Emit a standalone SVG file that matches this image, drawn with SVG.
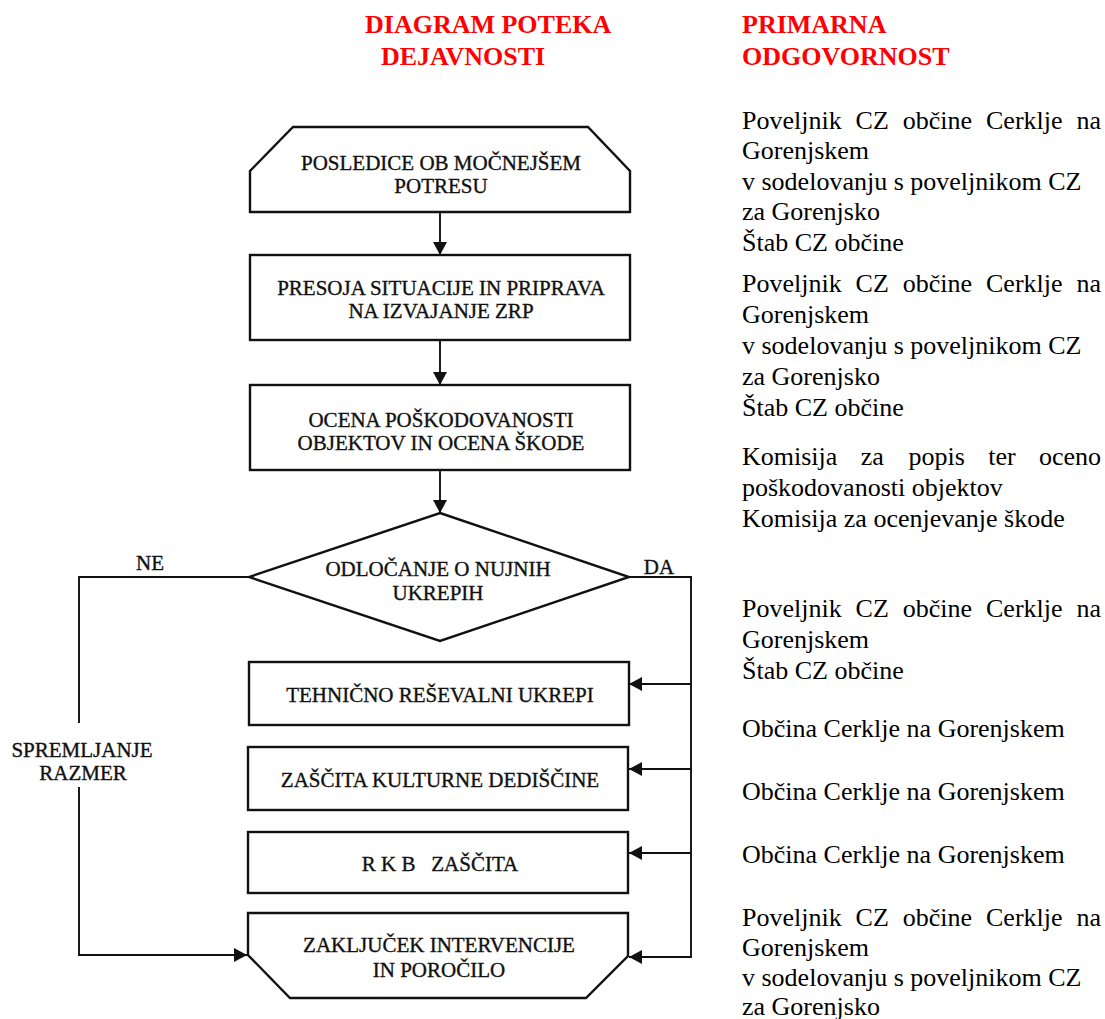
<svg xmlns="http://www.w3.org/2000/svg" width="1105" height="1019" viewBox="0 0 1105 1019">
<style>
text{font-family:'Liberation Serif','Times New Roman',serif}
.hdr{font-size:26px;font-weight:bold;fill:#ff0000}
.rt{font-size:26px;fill:#000}
.nt{font-size:21px;fill:#111;stroke:#111;stroke-width:0.35;text-anchor:middle}
.lb{font-size:21px;fill:#111;stroke:#111;stroke-width:0.35}
.shape{fill:#fff;stroke:#111;stroke-width:2.4}
.conn{fill:none;stroke:#111;stroke-width:1.9}
</style>
<defs>
<marker id="ah" markerUnits="userSpaceOnUse" markerWidth="14" markerHeight="14" refX="13" refY="7" orient="auto">
<path d="M0,0 L13,7 L0,14 Z" fill="#111"/>
</marker>
</defs>
<rect width="1105" height="1019" fill="#fff"/>

<g id="headers">
<text class="hdr" x="365" y="33">DIAGRAM POTEKA</text>
<text class="hdr" x="381" y="65">DEJAVNOSTI</text>
<text class="hdr" x="742" y="33">PRIMARNA</text>
<text class="hdr" x="742" y="65">ODGOVORNOST</text>
</g>

<g id="connectors">
<line class="conn" x1="440" y1="212" x2="440" y2="255" marker-end="url(#ah)"/>
<line class="conn" x1="440" y1="340" x2="440" y2="385" marker-end="url(#ah)"/>
<line class="conn" x1="440" y1="470" x2="440" y2="513" marker-end="url(#ah)"/>
<polyline class="conn" points="249,577 79,577 79,723"/>
<polyline class="conn" points="79,787 79,955 247,955" marker-end="url(#ah)"/>
<polyline class="conn" points="629,577 691,577 691,957 629,957" marker-end="url(#ah)"/>
<line class="conn" x1="691" y1="684" x2="629" y2="684" marker-end="url(#ah)"/>
<line class="conn" x1="691" y1="769" x2="629" y2="769" marker-end="url(#ah)"/>
<line class="conn" x1="691" y1="853" x2="629" y2="853" marker-end="url(#ah)"/>
<text class="lb" x="150" y="570" text-anchor="middle">NE</text>
<text class="lb" x="659" y="574" text-anchor="middle">DA</text>
<text class="lb" x="82" y="757" text-anchor="middle">SPREMLJANJE</text>
<text class="lb" x="83" y="780" text-anchor="middle">RAZMER</text>
</g>

<g id="n1">
<polygon class="shape" points="293,127 588,127 630,171 630,212 250,212 250,171"/>
<text class="nt" x="441" y="170">POSLEDICE OB MOČNEJŠEM</text>
<text class="nt" x="441" y="193">POTRESU</text>
</g>
<g id="n2">
<rect class="shape" x="250" y="255" width="380" height="85"/>
<text class="nt" x="441" y="295">PRESOJA SITUACIJE IN PRIPRAVA</text>
<text class="nt" x="441" y="318">NA IZVAJANJE ZRP</text>
</g>
<g id="n3">
<rect class="shape" x="250" y="385" width="380" height="85"/>
<text class="nt" x="441" y="427">OCENA POŠKODOVANOSTI</text>
<text class="nt" x="441" y="450">OBJEKTOV IN OCENA ŠKODE</text>
</g>
<g id="n4">
<polygon class="shape" points="440,513 629,577 440,641 249,577"/>
<text class="nt" x="438" y="576">ODLOČANJE O NUJNIH</text>
<text class="nt" x="438" y="600">UKREPIH</text>
</g>
<g id="n5">
<rect class="shape" x="249" y="662" width="380" height="63"/>
<text class="nt" x="440" y="702">TEHNIČNO REŠEVALNI UKREPI</text>
</g>
<g id="n6">
<rect class="shape" x="248" y="747" width="380" height="63"/>
<text class="nt" x="440" y="787">ZAŠČITA KULTURNE DEDIŠČINE</text>
</g>
<g id="n7">
<rect class="shape" x="248" y="832" width="380" height="61"/>
<text class="nt" x="440" y="871" xml:space="preserve">R K B   ZAŠČITA</text>
</g>
<g id="n8">
<polygon class="shape" points="248,913 628,913 628,956 586,998 290,998 248,955"/>
<text class="nt" x="439" y="952">ZAKLJUČEK INTERVENCIJE</text>
<text class="nt" x="439" y="977">IN POROČILO</text>
</g>

<g id="responsibility">
<text class="rt" y="129"><tspan x="742">Poveljnik</tspan><tspan x="855.6">CZ</tspan><tspan x="902.8">občine</tspan><tspan x="986">Cerklje</tspan><tspan x="1101" text-anchor="end">na</tspan></text>
<text class="rt" x="742" y="159">Gorenjskem</text>
<text class="rt" x="742" y="190">v sodelovanju s poveljnikom CZ</text>
<text class="rt" x="742" y="220">za Gorenjsko</text>
<text class="rt" x="742" y="251">Štab CZ občine</text>

<text class="rt" y="292"><tspan x="742">Poveljnik</tspan><tspan x="855.6">CZ</tspan><tspan x="902.8">občine</tspan><tspan x="986">Cerklje</tspan><tspan x="1101" text-anchor="end">na</tspan></text>
<text class="rt" x="742" y="323">Gorenjskem</text>
<text class="rt" x="742" y="354">v sodelovanju s poveljnikom CZ</text>
<text class="rt" x="742" y="385">za Gorenjsko</text>
<text class="rt" x="742" y="416">Štab CZ občine</text>

<text class="rt" y="465"><tspan x="742">Komisija</tspan><tspan x="860.7">za</tspan><tspan x="908.5">popis</tspan><tspan x="988.2">ter</tspan><tspan x="1101" text-anchor="end">oceno</tspan></text>
<text class="rt" x="742" y="496">poškodovanosti objektov</text>
<text class="rt" x="742" y="527">Komisija za ocenjevanje škode</text>

<text class="rt" y="617"><tspan x="742">Poveljnik</tspan><tspan x="855.6">CZ</tspan><tspan x="902.8">občine</tspan><tspan x="986">Cerklje</tspan><tspan x="1101" text-anchor="end">na</tspan></text>
<text class="rt" x="742" y="648">Gorenjskem</text>
<text class="rt" x="742" y="679">Štab CZ občine</text>

<text class="rt" x="742" y="737">Občina Cerklje na Gorenjskem</text>
<text class="rt" x="742" y="800">Občina Cerklje na Gorenjskem</text>
<text class="rt" x="742" y="863">Občina Cerklje na Gorenjskem</text>

<text class="rt" y="926"><tspan x="742">Poveljnik</tspan><tspan x="855.6">CZ</tspan><tspan x="902.8">občine</tspan><tspan x="986">Cerklje</tspan><tspan x="1101" text-anchor="end">na</tspan></text>
<text class="rt" x="742" y="956">Gorenjskem</text>
<text class="rt" x="742" y="986">v sodelovanju s poveljnikom CZ</text>
<text class="rt" x="742" y="1015">za Gorenjsko</text>
</g>
</svg>
